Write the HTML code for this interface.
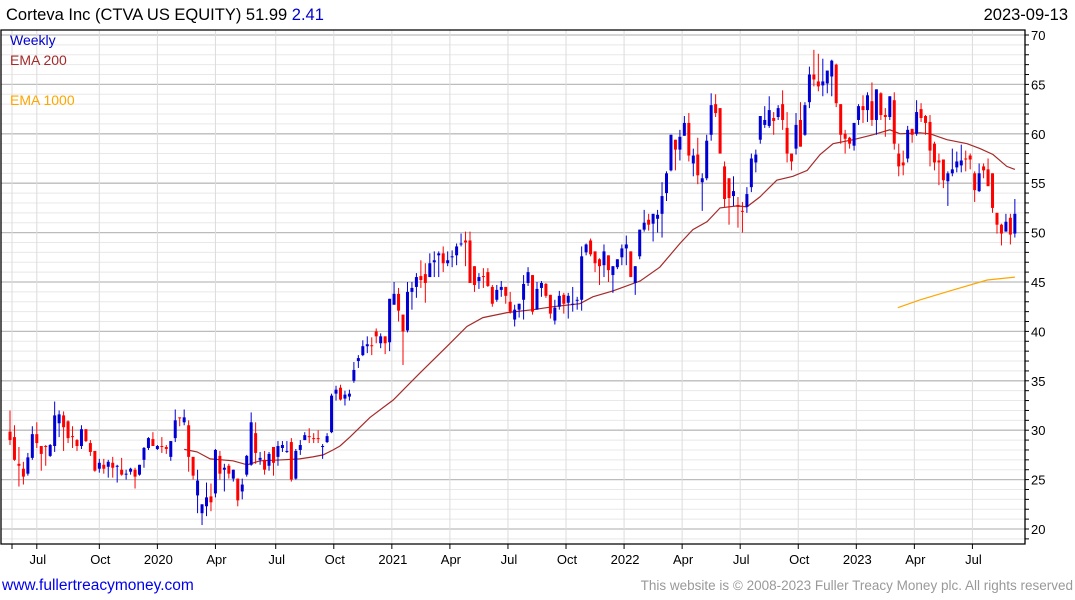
<!DOCTYPE html>
<html><head><meta charset="utf-8">
<style>
body{margin:0;background:#fff;width:1075px;height:600px;overflow:hidden;font-family:"Liberation Sans",sans-serif;}
svg{display:block}
</style></head>
<body>
<svg id="chart" width="1075" height="600" xmlns="http://www.w3.org/2000/svg" font-family="Liberation Sans, sans-serif">
<text x="6" y="20" font-size="16.5" fill="#000">Corteva Inc (CTVA US EQUITY) 51.99 <tspan fill="#0000cc">2.41</tspan></text>
<text x="1068" y="20" font-size="16.5" text-anchor="end" fill="#000">2023-09-13</text>
<g id="grid"></g>
<g id="ema"></g>
<g id="candles"></g>
<g id="axes"></g>
<text x="10" y="45" font-size="14" fill="#0000cc">Weekly</text>
<text x="10" y="65" font-size="14" fill="#a52a2a">EMA 200</text>
<text x="10" y="105" font-size="14" fill="#ffa500">EMA 1000</text>
<text x="2" y="590" font-size="15.5" fill="#0000ee">www.fullertreacymoney.com</text>
<text x="1073" y="590" font-size="13.5" text-anchor="end" fill="#999">This website is © 2008-2023 Fuller Treacy Money plc. All rights reserved</text>
</svg>
<script>
const opens=[29.85,29.3,26.6,26.1,25.6,27.2,29.6,28.4,28.4,27.4,28.4,30.7,31.5,30.9,29.4,29.0,28.4,30.1,28.7,27.9,26.1,26.5,26.3,26.7,26.3,26.0,25.5,25.8,26.0,25.5,27.0,28.2,29.1,28.1,28.4,28.3,27.3,29.2,31.3,30.8,30.5,27.3,23.4,21.6,22.3,23.3,23.6,27.4,26.0,26.4,25.1,25.1,23.8,25.5,26.5,29.7,27.0,27.0,26.4,28.3,27.3,28.2,27.8,28.8,25.1,28.0,29.0,29.4,29.2,29.2,28.3,28.8,29.8,33.7,34.3,33.2,33.4,35.0,37.0,37.6,38.5,38.6,40.0,38.8,39.5,38.9,42.7,43.8,41.7,40.1,44.0,44.5,45.6,45.8,45.5,47.0,47.7,47.9,46.9,47.5,47.7,48.8,49.2,49.2,46.6,45.1,45.6,46.0,44.5,43.2,44.2,44.5,43.0,41.2,42.2,43.2,44.9,45.7,42.2,44.4,44.8,43.7,41.1,42.5,43.7,42.9,42.7,43.1,43.2,48.0,49.2,48.1,47.3,46.7,47.7,45.7,46.5,47.5,48.4,48.1,44.9,47.6,50.3,51.3,50.9,51.4,51.9,54.0,56.3,59.4,58.4,59.8,61.1,57.0,57.9,55.1,55.5,59.9,63.0,62.6,56.7,55.5,53.7,52.8,52.2,52.6,54.6,57.1,59.4,60.9,60.8,61.6,61.7,63.0,60.6,58.0,58.5,61.4,59.9,63.2,66.0,65.3,64.9,65.1,65.8,67.0,63.0,60.0,59.6,58.8,61.4,62.8,62.4,63.3,61.4,64.1,61.9,61.7,63.4,58.0,57.1,57.5,60.5,60.0,62.5,61.8,61.2,59.0,57.3,57.4,55.2,56.0,56.6,56.8,57.5,57.8,56.0,54.2,56.7,56.4,56.0,52.0,50.8,50.1,51.5,49.9];
const highs=[32.0,30.5,28.3,26.8,27.7,30.4,30.8,28.4,28.5,28.6,32.9,32.0,31.9,31.0,30.4,29.1,30.5,30.1,29.0,27.9,27.1,27.1,27.0,27.3,26.5,27.2,26.0,26.2,26.2,26.5,28.3,29.3,29.8,28.5,29.3,28.5,28.9,32.1,31.3,32.1,31.0,27.3,26.0,22.5,24.7,24.6,28.1,27.9,26.6,26.6,26.0,25.1,25.1,27.5,31.8,30.8,27.8,27.9,27.8,28.3,28.9,28.9,28.9,29.2,28.1,29.0,29.8,30.2,29.7,30.0,28.6,29.7,33.7,34.5,34.6,34.0,34.1,36.9,37.6,39.1,39.5,39.4,40.3,39.8,39.5,43.3,45.0,44.4,41.7,45.0,45.0,45.9,47.2,46.9,47.9,48.1,48.1,48.6,48.1,48.2,48.9,49.9,50.1,50.1,46.6,45.9,46.4,46.4,44.7,44.7,45.1,44.5,44.0,42.7,42.8,45.7,46.5,45.7,45.0,45.1,44.9,43.7,43.2,44.1,43.9,43.9,44.5,43.5,48.6,48.9,49.4,48.1,47.4,48.8,47.7,46.6,47.3,48.8,49.7,48.1,46.6,50.3,52.3,51.9,51.9,52.3,55.1,56.2,59.9,59.4,60.4,61.8,62.1,58.5,59.6,56.0,59.9,64.1,64.0,62.6,57.2,55.5,55.7,53.6,53.1,54.6,58.0,58.4,61.8,62.8,63.8,62.2,62.9,64.4,62.2,58.0,62.1,63.2,63.2,66.8,68.5,68.1,67.6,66.4,67.5,67.1,63.0,60.4,59.7,61.1,63.0,63.9,64.2,65.2,64.5,64.2,62.6,63.8,64.2,59.0,58.3,60.8,60.5,63.4,63.1,61.9,61.9,59.2,58.0,57.4,56.2,58.5,58.2,58.9,58.3,58.0,56.2,57.0,57.0,57.5,56.0,52.0,50.9,51.9,51.9,53.4];
const lows=[28.5,26.9,24.3,24.5,25.4,27.0,28.2,25.9,26.4,27.3,27.8,29.3,27.9,28.7,28.2,27.9,28.1,28.8,27.4,25.8,25.7,25.6,25.2,25.2,24.7,25.4,25.0,25.5,24.1,25.4,26.2,28.0,28.4,28.0,27.7,27.6,26.9,28.8,30.4,30.5,25.8,25.0,21.6,20.4,21.3,21.8,23.2,25.0,23.8,25.1,24.8,22.3,23.0,25.3,26.4,26.6,26.5,25.5,25.9,25.4,26.4,27.8,27.7,24.8,25.0,27.5,29.0,28.7,28.7,28.7,27.1,28.7,29.7,33.0,33.0,32.5,33.0,34.8,36.3,37.5,37.8,37.6,38.8,38.3,37.7,38.0,42.7,41.0,36.6,39.9,42.2,43.4,44.4,42.9,45.5,45.5,45.5,46.0,46.6,46.5,46.7,48.6,46.6,44.9,44.0,44.3,44.4,44.5,42.5,43.0,43.5,42.8,41.8,40.5,41.4,41.2,44.6,41.7,42.2,43.5,43.4,41.3,40.7,42.2,41.8,41.3,42.0,42.2,42.1,47.7,47.6,46.0,44.7,45.5,45.0,43.9,46.3,46.7,46.7,45.5,43.7,47.3,50.1,50.2,49.1,50.0,49.5,53.2,56.2,56.3,57.3,59.8,57.2,55.7,54.9,52.2,55.3,59.3,61.7,58.0,52.6,50.8,52.7,50.5,50.0,52.0,54.1,56.1,59.0,60.6,60.6,59.9,61.4,60.4,57.1,56.3,57.9,58.7,59.8,62.6,64.8,64.3,63.8,64.1,63.8,62.7,59.0,58.0,58.5,58.3,60.9,61.1,61.2,60.8,59.9,61.4,59.7,61.4,58.4,55.7,55.8,57.1,59.1,59.8,61.2,59.9,56.7,56.3,54.8,54.5,52.7,55.7,56.1,56.1,56.2,56.4,53.1,54.1,55.5,54.7,52.0,49.9,48.7,50.1,48.8,49.5];
const closes=[29.0,27.0,26.4,25.3,27.25,29.6,28.7,27.6,28.3,28.5,31.5,31.6,30.3,29.2,29.3,28.4,30.1,28.9,27.8,25.9,26.7,26.1,26.8,26.2,26.4,25.5,25.6,26.1,25.3,26.5,28.2,29.2,28.4,28.4,28.3,28.1,28.9,31.0,31.2,31.3,27.3,25.4,24.9,22.5,23.2,22.7,28.0,25.6,26.2,25.6,26.0,22.9,24.5,27.4,30.8,27.7,27.2,26.0,27.6,26.7,28.4,28.5,27.9,25.0,27.9,28.5,29.5,29.3,29.1,29.1,28.4,29.4,33.5,34.1,33.1,33.6,33.7,36.1,37.3,38.5,38.7,38.5,39.5,39.5,38.8,43.3,43.8,42.1,40.0,44.0,44.4,45.5,45.2,44.9,46.9,47.2,47.9,46.9,47.2,47.6,48.6,48.9,49.0,44.9,44.7,45.5,45.5,44.6,42.8,44.2,44.5,43.6,42.0,42.2,42.8,44.8,46.0,42.0,44.3,44.9,43.6,41.8,42.4,43.6,42.8,43.6,42.8,43.2,47.6,48.8,47.8,46.9,46.6,48.1,46.2,46.6,47.3,48.4,48.8,45.5,46.6,50.3,51.0,50.8,51.9,51.8,53.7,56.0,59.9,58.4,59.7,61.1,57.8,57.8,55.8,55.5,59.3,62.9,62.1,58.0,53.4,53.5,54.2,52.6,52.1,53.9,57.5,57.9,61.8,61.4,62.4,61.3,62.6,61.4,58.0,57.2,60.9,58.7,62.9,66.0,65.5,64.8,65.3,66.4,67.4,63.1,59.9,59.5,59.0,61.1,62.8,62.4,63.9,61.4,64.5,61.9,61.7,63.8,59.0,56.7,56.8,60.4,59.9,62.2,61.6,61.1,58.3,57.1,57.1,55.3,56.0,56.4,57.2,57.3,57.4,57.4,54.3,56.0,56.3,54.7,52.5,50.8,49.9,51.1,49.8,51.9];
// EMA knots: week index (0-based) and value
const ema200Week=[39.0,41.9,44.8,49.9,53.1,56.0,61.1,64.9,67.8,70.1,72.3,73.9,76.1,80.6,85.8,91.8,97.9,102.3,105.9,111.3,117.1,121.6,127.6,130.5,135.0,141.1,145.5,150.0,152.9,156.1,159.0,162.8,165.0,167.9,171.7,175.3,178.5,181.4,184.3,188.8,193.2,197.0,199.3,203.8,206.0,209.8,214.3,217.2,220.1,223.2,225];
const ema200Value=[28.06,27.8,27.1,26.9,26.5,26.9,27.0,27.1,27.3,27.5,28.0,28.4,29.3,31.3,33.06,35.8,38.5,40.5,41.4,41.9,42.2,42.5,42.8,43.5,44.1,45.1,46.5,48.9,50.3,51.1,52.5,52.7,52.6,53.6,55.3,55.7,56.3,57.9,59.0,59.4,59.9,60.4,60.0,60.1,60.0,59.4,59.0,58.5,57.9,56.7,56.4];
const ema1000Week=[198.8,203.8,211.2,218.8,225];
const ema1000Value=[42.4,43.2,44.2,45.2,45.5];
const yTicks=[20,25,30,35,40,45,50,55,60,65,70];
const xLabels=["Jul","Oct","2020","Apr","Jul","Oct","2021","Apr","Jul","Oct","2022","Apr","Jul","Oct","2023","Apr","Jul"];
const xLabelWeek=[6,20,33,46,59.5,72.5,85.5,98.5,111.5,124.5,137.5,150.5,163.5,176.5,189.5,202.5,215.5];

const NS="http://www.w3.org/2000/svg";
const X0=10,DX=4.466,PL=1,PR=1025,PT=30,PB=544;
const xs=i=>X0+i*DX;
const ys=p=>35+(70-p)*9.88;
function mk(tag,attrs,parent){const e=document.createElementNS(NS,tag);for(const k in attrs)e.setAttribute(k,attrs[k]);parent.appendChild(e);return e;}
const grid=document.getElementById('grid'),axes=document.getElementById('axes'),cg=document.getElementById('candles'),eg=document.getElementById('ema');
for(let p=19;p<=70;p++){
  const major=p%5===0;
  const l=mk('line',{x1:PL,x2:PR,y1:ys(p),y2:ys(p),stroke:major?'#bcbcbc':'#e8e8e8','stroke-width':major?1.3:1},grid);
  
  
}
const vl=mk('line',{x1:12,x2:12,y1:PT,y2:PB,stroke:'#dcdcdc'},grid);


xLabelWeek.forEach((w,k)=>{
  const x=xs(w);
  const g=mk('line',{x1:x,x2:x,y1:PT,y2:PB,stroke:'#dcdcdc'},grid);
  
  
  const t=mk('line',{x1:x,x2:x,y1:PB,y2:PB+5,stroke:'#000'},axes);
  
  
  const tx=mk('text',{x:x+1,y:PB+20,'font-size':13,'text-anchor':'middle',fill:'#000'},axes);
  tx.textContent=xLabels[k];
  
  
});
const t0=mk('line',{x1:12,x2:12,y1:PB,y2:PB+5,stroke:'#000'},axes);


const fr=mk('path',{d:`M${PL},${PT}H${PR}V${PB}H${PL}Z`,fill:'none',stroke:'#000','stroke-width':1.3},axes);


for(let p=19;p<=70;p++){
  const tk=mk('line',{x1:PR,x2:PR+4,y1:ys(p),y2:ys(p),stroke:'#000'},axes);
  
  
}
yTicks.forEach(v=>{
  const t=mk('text',{x:PR+6,y:ys(v)+5,'font-size':13,fill:'#000'},axes);
  t.textContent=v;
  
  
});
function line(ws,vs,color,name){
  const d=ws.map((w,i)=>(i?'L':'M')+xs(w).toFixed(1)+','+ys(vs[i]).toFixed(1)).join('');
  const p=mk('path',{d,fill:'none',stroke:color,'stroke-width':1.2},eg);
  
  
}
line(ema200Week,ema200Value,'#a52a2a','ema-200-line');
line(ema1000Week,ema1000Value,'#ffa500','ema-1000-line');
opens.forEach((o,i)=>{
  const c=closes[i],h=highs[i],l=lows[i];
  const up=c>=o;const col=up?'#0000d4':'#ff0000';
  const x=xs(i);
  const g=mk('g',{},cg);
  
  
  mk('line',{x1:x,x2:x,y1:ys(h),y2:ys(l),stroke:col,'stroke-width':1},g);
  const top=ys(Math.max(o,c)),bot=ys(Math.min(o,c));
  mk('rect',{x:x-1.5,y:top,width:3,height:Math.max(1,bot-top),fill:col},g);
});
</script>
</body></html>
